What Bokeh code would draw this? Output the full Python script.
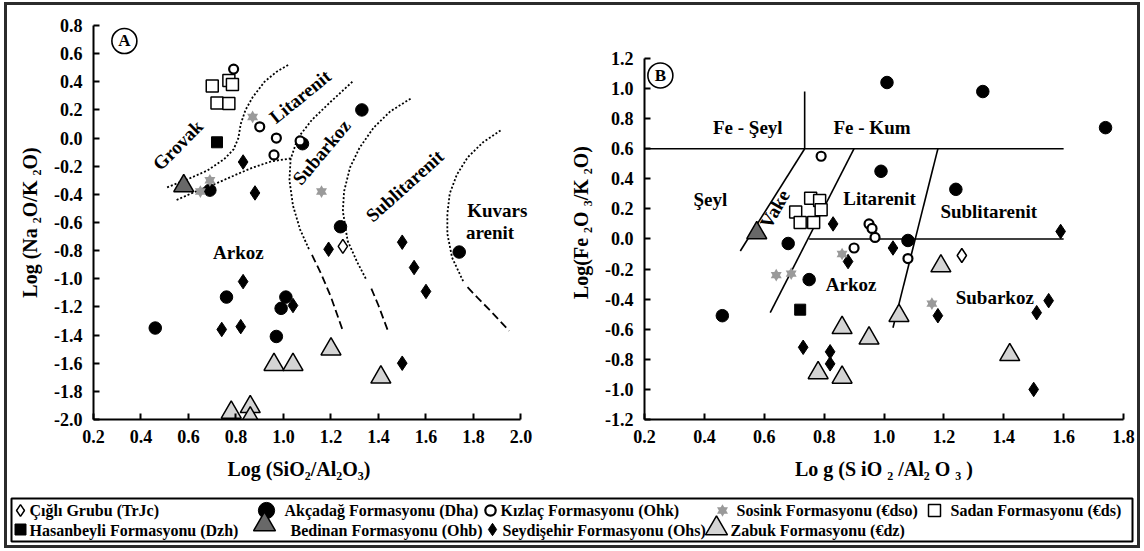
import math
from bokeh.plotting import figure
from bokeh.layouts import row, column
from bokeh.models import Range1d, FixedTicker, Label
from bokeh.core.properties import value
from bokeh.embed import file_html
from bokeh.resources import INLINE

FONT = "Liberation Serif"

# ---------------- Panel A : x = Log(SiO2/Al2O3), y = Log(Na2O/K2O) ----------------
a_cigli_x = [1.25]
a_cigli_y = [-0.77]
a_akcadag_x = [0.69, 1.33, 1.08, 1.24, 1.74, 0.46, 0.76, 1.01, 0.99, 0.97]
a_akcadag_y = [-0.37, 0.20, -0.04, -0.63, -0.81, -1.35, -1.13, -1.13, -1.21, -1.41]
a_kizlac_x = [0.79, 0.90, 0.97, 0.96, 1.07]
a_kizlac_y = [0.49, 0.08, 0.00, -0.12, -0.02]
a_sosink_x = [0.87, 0.69, 0.65, 1.16]
a_sosink_y = [0.15, -0.30, -0.38, -0.38]
a_sadan_x = [0.70, 0.77, 0.785, 0.72, 0.77]
a_sadan_y = [0.37, 0.41, 0.38, 0.25, 0.245]
a_hasanbeyli_x = [0.72]
a_hasanbeyli_y = [-0.03]
a_bedinan_x = [0.58]
a_bedinan_y = [-0.34]
a_seydisehir_x = [0.83, 0.88, 1.19, 0.83, 0.74, 0.82, 1.04, 1.50, 1.55, 1.60, 1.50]
a_seydisehir_y = [-0.17, -0.39, -0.79, -1.02, -1.36, -1.34, -1.19, -0.74, -0.92, -1.09, -1.60]
a_zabuk_x = [0.96, 1.04, 1.20, 1.41, 0.78, 0.86, 0.86]
a_zabuk_y = [-1.61, -1.61, -1.50, -1.70, -1.95, -1.91, -1.99]

# field boundaries of panel A (dotted parts, then dashed extensions)
a_dot_xs = [
    [0.51, 0.60, 0.68, 0.75, 0.79, 0.81, 0.82, 0.84, 0.87, 0.92, 0.97, 1.02],
    [0.55, 0.63, 0.72, 0.80, 0.87, 0.95, 1.03],
    [1.29, 1.20, 1.12, 1.06, 1.03, 1.025, 1.04, 1.07, 1.11],
    [1.535, 1.45, 1.38, 1.32, 1.28, 1.255, 1.25, 1.27, 1.31, 1.35],
    [1.914, 1.84, 1.775, 1.73, 1.70, 1.69, 1.69, 1.71, 1.76],
]
a_dot_ys = [
    [-0.35, -0.29, -0.23, -0.15, -0.08, 0.0, 0.10, 0.20, 0.29, 0.40, 0.47, 0.52],
    [-0.44, -0.38, -0.32, -0.26, -0.21, -0.165, -0.145],
    [0.40, 0.26, 0.13, 0.0, -0.15, -0.30, -0.48, -0.65, -0.80],
    [0.28, 0.19, 0.075, -0.07, -0.21, -0.38, -0.52, -0.73, -0.88, -1.01],
    [0.054, -0.03, -0.138, -0.26, -0.394, -0.54, -0.68, -0.85, -1.03],
]
a_dash_xs = [
    [1.12, 1.16, 1.20, 1.25],
    [1.37, 1.40, 1.44],
    [1.775, 1.82, 1.87, 1.95],
]
a_dash_ys = [
    [-0.83, -0.97, -1.13, -1.37],
    [-1.07, -1.19, -1.37],
    [-1.06, -1.14, -1.225, -1.37],
]
a_field_names = ["Grovak", "Litarenit", "Subarkoz", "Sublitarenit", "Arkoz", "Kuvars", "arenit"]
a_field_x = [0.555, 1.07, 1.16, 1.51, 0.81, 1.90, 1.87]
a_field_y = [-0.05, 0.295, -0.10, -0.34, -0.81, -0.515, -0.67]
a_field_angle_deg = [45, 39, 50, 42, 0, 0, 0]

# ---------------- Panel B : x = Log(SiO2/Al2O3), y = Log(Fe2O3/K2O) ----------------
b_cigli_x = [1.26]
b_cigli_y = [-0.11]
b_akcadag_x = [1.01, 1.33, 1.74, 0.99, 1.24, 1.08, 0.68, 0.75, 0.46]
b_akcadag_y = [1.04, 0.98, 0.74, 0.45, 0.33, -0.01, -0.03, -0.27, -0.51]
b_kizlac_x = [0.79, 0.95, 0.96, 0.97, 0.90, 1.08]
b_kizlac_y = [0.55, 0.10, 0.07, 0.01, -0.06, -0.13]
b_sosink_x = [0.64, 0.69, 0.86, 1.16]
b_sosink_y = [-0.24, -0.23, -0.10, -0.43]
b_sadan_x = [0.755, 0.785, 0.79, 0.705, 0.72, 0.765]
b_sadan_y = [0.27, 0.255, 0.195, 0.18, 0.11, 0.11]
b_hasanbeyli_x = [0.72]
b_hasanbeyli_y = [-0.47]
b_bedinan_x = [0.575]
b_bedinan_y = [0.04]
b_seydisehir_x = [0.83, 1.03, 0.88, 0.73, 0.82, 0.82, 1.59, 1.18, 1.51, 1.55, 1.50]
b_seydisehir_y = [0.10, -0.06, -0.15, -0.72, -0.75, -0.83, 0.05, -0.51, -0.49, -0.41, -1.00]
b_zabuk_x = [0.86, 0.95, 0.78, 0.86, 1.05, 1.19, 1.42]
b_zabuk_y = [-0.59, -0.66, -0.89, -0.92, -0.51, -0.18, -0.77]

# field boundaries of panel B (solid lines)
b_line_xs = [[0.2, 1.6], [0.735, 0.735], [0.735, 0.52], [0.90, 0.62], [1.18, 1.03], [0.75, 1.6]]
b_line_ys = [[0.6, 0.6], [0.6, 0.98], [0.6, -0.08], [0.6, -0.49], [0.6, -0.59], [0.0, 0.0]]
b_field_names = ["Fe - Şeyl", "Fe - Kum", "Şeyl", "Vake", "Litarenit", "Sublitarenit", "Arkoz", "Subarkoz"]
b_field_x = [0.545, 0.96, 0.42, 0.635, 0.985, 1.35, 0.89, 1.37]
b_field_y = [0.74, 0.74, 0.26, 0.20, 0.27, 0.18, -0.30, -0.39]
b_field_angle_deg = [0, 0, 0, 60, 0, 0, 0, 0]

# ticks
a_xticks = [0.2, 0.4, 0.6, 0.8, 1.0, 1.2, 1.4, 1.6, 1.8, 2.0]
a_yticks = [-2.0, -1.8, -1.6, -1.4, -1.2, -1.0, -0.8, -0.6, -0.4, -0.2, 0.0, 0.2, 0.4, 0.6, 0.8]
b_xticks = [0.2, 0.4, 0.6, 0.8, 1.0, 1.2, 1.4, 1.6, 1.8]
b_yticks = [-1.2, -1.0, -0.8, -0.6, -0.4, -0.2, 0.0, 0.2, 0.4, 0.6, 0.8, 1.0, 1.2]

# legend
legend_keys = ["cigli", "akcadag", "kizlac", "sosink", "sadan",
               "hasanbeyli", "bedinan", "seydisehir", "zabuk"]
legend_labels = ["Çığlı Grubu (TrJc)", "Akçadağ Formasyonu (Dha)", "Kızlaç Formasyonu (Ohk)",
                 "Sosink Formasyonu (€dso)", "Sadan Formasyonu (€ds)",
                 "Hasanbeyli Formasyonu (Dzh)", "Bedinan Formasyonu (Ohb)",
                 "Seydişehir Formasyonu (Ohs)", "Zabuk Formasyonu (€dz)"]

STYLE = {
    "cigli": dict(marker="diamond", size=14, fill_color="white", line_color="black", line_width=1.5),
    "akcadag": dict(marker="circle", size=12.5, fill_color="black", line_color="black", line_width=1),
    "kizlac": dict(marker="circle", size=9, fill_color="white", line_color="black", line_width=2.2),
    "sadan": dict(marker="square", size=12, fill_color="white", line_color="black", line_width=1.5),
    "hasanbeyli": dict(marker="square", size=11, fill_color="black", line_color="black", line_width=1),
    "bedinan": dict(marker="triangle", size=20, fill_color="#686868", line_color="black", line_width=1.5),
    "seydisehir": dict(marker="diamond", size=14.5, fill_color="black", line_color="black", line_width=1),
    "zabuk": dict(marker="triangle", size=20, fill_color="#d4d4d4", line_color="black", line_width=1.5),
}


def draw(p, key, x, y, scale=1.0):
    if key == "sosink":
        for m in ("triangle", "inverted_triangle"):
            p.scatter(x, y, marker=m, size=11 * scale, fill_color="#9a9a9a", line_color=None)
        return
    st = dict(STYLE[key])
    st["size"] = st["size"] * scale
    p.scatter(x, y, **st)


def style_axes(p, xticks, yticks):
    p.xaxis.ticker = FixedTicker(ticks=xticks)
    p.yaxis.ticker = FixedTicker(ticks=yticks)
    p.xaxis.major_label_overrides = {t: f"{t:.1f}" for t in xticks}
    p.yaxis.major_label_overrides = {t: f"{t:.1f}" for t in yticks}
    for ax in (p.xaxis[0], p.yaxis[0]):
        ax.axis_line_width = 2
        ax.axis_line_color = "black"
        ax.major_tick_in = 6
        ax.major_tick_out = 0
        ax.major_tick_line_width = 2
        ax.minor_tick_line_color = None
        ax.major_label_text_font = FONT
        ax.major_label_text_font_style = "bold"
        ax.major_label_text_font_size = "18px"
        ax.major_label_text_color = "black"
        ax.axis_label_text_font = FONT
        ax.axis_label_text_font_style = "bold"
        ax.axis_label_text_font_size = "20px"
        ax.axis_label_text_color = "black"
    p.xaxis.major_label_standoff = 10
    p.yaxis.major_label_standoff = 11
    p.xaxis.axis_label_standoff = 12
    p.yaxis.axis_label_standoff = 10
    p.grid.visible = False
    p.outline_line_color = None


def labels(p, xs, ys, texts, angles_deg, size="19px"):
    for x, y, t, a in zip(xs, ys, texts, angles_deg):
        p.add_layout(Label(x=x, y=y, text=t, angle=math.radians(a),
                           text_font=FONT, text_font_style="bold", text_font_size=size,
                           text_align="center", text_baseline="middle", text_color="black"))


def series(p, prefix):
    g = globals()
    for key in ["zabuk", "bedinan", "sadan", "akcadag", "kizlac", "seydisehir",
                "hasanbeyli", "cigli", "sosink"]:
        draw(p, key, g[f"{prefix}_{key}_x"], g[f"{prefix}_{key}_y"])


# ---------------- figure A ----------------
# frame reaches a little past 2.0 so the "Kuvars" label is not cut; the axis spans 0.2..2.0
pa = figure(width=560, height=482, x_range=Range1d(0.2, 2.078), y_range=Range1d(-2.0, 0.8),
            output_backend="svg", toolbar_location=None,
            min_border_left=86, min_border_right=28, min_border_top=20, min_border_bottom=68)
style_axes(pa, a_xticks, a_yticks)
pa.xaxis.bounds = (0.2, 2.0)
pa.xaxis.axis_label = "Log (SiO₂/Al₂O₃)" + "\u00a0" * 7
pa.yaxis.axis_label = "Log (Na ₂O/K ₂O)"
pa.multi_line(a_dot_xs, a_dot_ys, line_color="black", line_width=1.8, line_dash="2 2")
pa.multi_line(a_dash_xs, a_dash_ys, line_color="black", line_width=1.8, line_dash="8 4")
labels(pa, a_field_x, a_field_y, a_field_names, a_field_angle_deg)
series(pa, "a")
pa.scatter([0.33], [0.69], marker="circle", size=25, fill_color="white", line_color="black", line_width=1.6)
labels(pa, [0.33], [0.69], ["A"], [0], size="17px")

# ---------------- figure B ----------------
# frame top shares panel A's top; axis itself stops at 1.2
pb = figure(width=570, height=482, x_range=Range1d(0.2, 1.8), y_range=Range1d(-1.2, 1.419),
            output_backend="svg", toolbar_location=None,
            min_border_left=74, min_border_right=14, min_border_top=20, min_border_bottom=68)
style_axes(pb, b_xticks, b_yticks)
pb.yaxis.bounds = (-1.2, 1.2)
pb.xaxis.axis_label = "Lo g (S iO ₂ /Al₂ O ₃ )"
pb.yaxis.axis_label = "Log(Fe ₂O ₃/K ₂O)"
pb.multi_line(b_line_xs, b_line_ys, line_color="black", line_width=1.6)
labels(pb, b_field_x, b_field_y, b_field_names, b_field_angle_deg)
series(pb, "b")
pb.scatter([0.253], [1.087], marker="circle", size=25, fill_color="white", line_color="black", line_width=1.6)
labels(pb, [0.253], [1.087], ["B"], [0], size="17px")

# ---------------- legend strip ----------------
pl = figure(width=1130, height=58, x_range=Range1d(7, 1137), y_range=Range1d(545, 487),
            output_backend="svg", toolbar_location=None,
            min_border=0, min_border_left=0, min_border_right=0, min_border_top=0, min_border_bottom=0)
pl.axis.visible = False
pl.grid.visible = False
pl.outline_line_color = None
pl.quad(left=[11], right=[1132], top=[498], bottom=[541], fill_color=None, line_color="black", line_width=2)
leg_marker_x = [20, 266, 490, 722, 934, 20, 264, 492, 716]
leg_text_x = [29, 284, 500, 736, 950, 29, 290, 502, 730]
leg_y = [510, 510, 510, 510, 510, 529, 524, 529, 528]
leg_text_y = [510, 510, 510, 510, 510, 530, 530, 530, 530]
leg_scale = [0.85, 1.3, 1.15, 1.0, 1.0, 1.0, 1.1, 0.85, 1.1]
for k, mx, my, sc in zip(legend_keys, leg_marker_x, leg_y, leg_scale):
    draw(pl, k, [mx], [my], scale=sc)
pl.text(leg_text_x, leg_text_y, text=legend_labels, text_font=value(FONT), text_font_style="bold",
        text_font_size="16px", text_align="left", text_baseline="middle", text_color="black")

layout = column(row(pa, pb), pl, margin=(2, 4, 3, 4),
                styles={"border": "3px solid #2b2b2b", "background": "white"})

open("out.html", "w").write(file_html(layout, INLINE))
